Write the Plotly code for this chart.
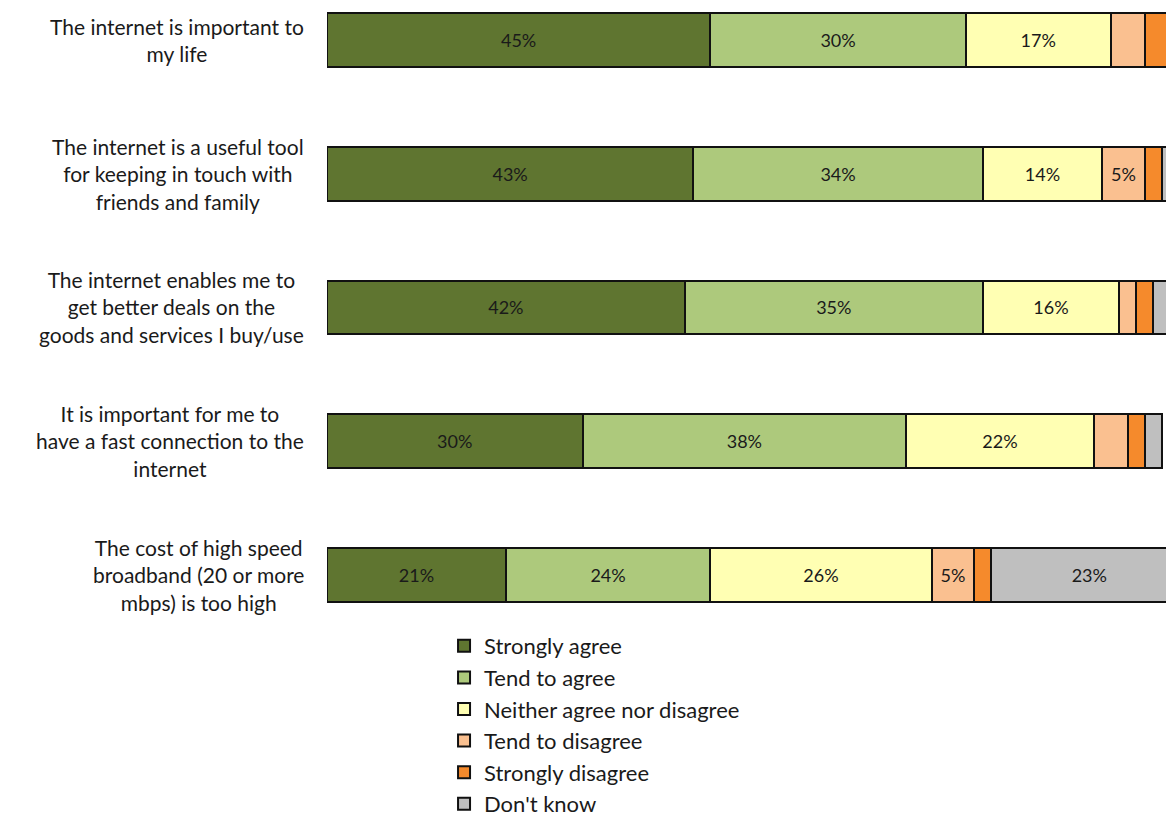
import plotly.graph_objects as go

# Survey statements (top to bottom) and response shares in percent
statements = [
    ["The internet is important to", "my life"],
    ["The internet is a useful tool", "for keeping in touch with", "friends and family"],
    ["The internet enables me to", "get better deals on the", "goods and services I buy/use"],
    ["It is important for me to", "have a fast connection to the", "internet"],
    ["The cost of high speed", "broadband (20 or more", "mbps) is too high"],
]
cat_ids = ["s1", "s2", "s3", "s4", "s5"]

strongly_agree = [45, 43, 42, 30, 21]
tend_to_agree = [30, 34, 35, 38, 24]
neither = [17, 14, 16, 22, 26]
tend_to_disagree = [4, 5, 2, 4, 5]
strongly_disagree = [3, 2, 2, 2, 2]
dont_know = [1, 1, 2, 2, 23]

series = [
    ("Strongly agree", strongly_agree, "#5F7530"),
    ("Tend to agree", tend_to_agree, "#ADC97C"),
    ("Neither agree nor disagree", neither, "#FFFFB3"),
    ("Tend to disagree", tend_to_disagree, "#FAC090"),
    ("Strongly disagree", strongly_disagree, "#F58A2C"),
    ("Don't know", dont_know, "#BFBFBF"),
]

FONT = "Lato"

fig = go.Figure()
for name, vals, color in series:
    fig.add_trace(go.Bar(
        y=cat_ids,
        x=vals,
        name=name,
        orientation="h",
        legendgroup=name,
        marker=dict(color=color, line=dict(color="#111111", width=2)),
        width=0.4,
        text=[f"{v}%" if v >= 5 else "" for v in vals],
        textposition="inside",
        insidetextanchor="middle",
        textangle=0,
        textfont=dict(family=FONT, size=18, color="#1a1a1a"),
        hoverinfo="name+x",
    ))

# Statement labels, centred multi-line blocks to the left of the bars
for cid, lines in zip(cat_ids, statements):
    fig.add_annotation(
        x=-0.025, xref="paper", xanchor="right",
        y=cid, yref="y", yanchor="middle",
        text="<br>".join(lines), align="center", showarrow=False,
        font=dict(family=FONT, size=21, color="#1a1a1a"),
    )

fig.update_layout(
    width=1166, height=825,
    barmode="stack",
    plot_bgcolor="white", paper_bgcolor="white",
    margin=dict(l=327, r=0, t=0, b=205),
    xaxis=dict(range=[0, 98.5], visible=False, fixedrange=True),
    yaxis=dict(range=[4.33, -0.30], showticklabels=False, showgrid=False,
               zeroline=False, showline=False, fixedrange=True),
    showlegend=True,
    legend=dict(
        x=0.1395, xanchor="left", y=-0.01, yanchor="top",
        traceorder="normal", tracegroupgap=6,
        font=dict(family=FONT, size=22, color="#1a1a1a"),
        bgcolor="rgba(0,0,0,0)",
    ),
    font=dict(family=FONT),
)

fig.write_html("out.html")
